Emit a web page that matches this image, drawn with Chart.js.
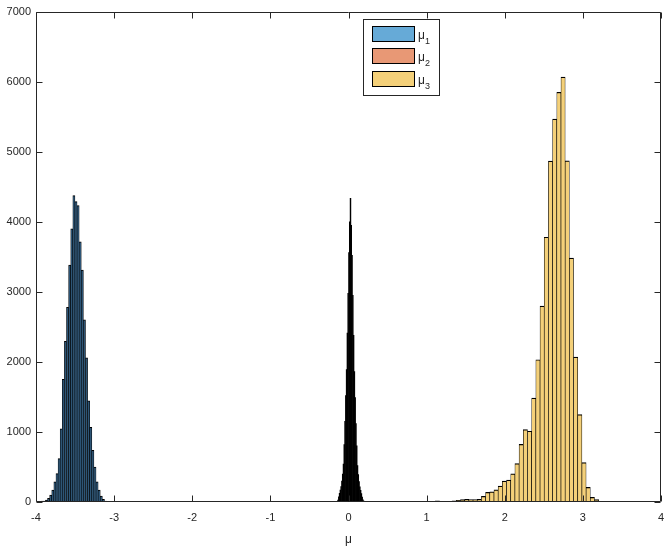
<!DOCTYPE html>
<html><head><meta charset="utf-8">
<script src="https://cdn.jsdelivr.net/npm/chart.js@4.4.1/dist/chart.umd.min.js"></script>
<style>html,body{margin:0;padding:0;background:#fff}canvas{display:block}</style>
</head><body>
<canvas id="c" width="664" height="547"></canvas>
<script>
// ---- data ----
const seriesNames = ['μ1', 'μ2', 'μ3'];
const seriesColors = ['rgb(102,170,215)', 'rgb(232,152,117)', 'rgb(244,208,121)'];
// on-screen fill of the very narrow bins (edges dominate, so they render darker)
const narrowFill = ['rgb(45,85,118)', '#000'];

const mu1Start = -3.92, mu1Width = 0.027;
const mu1Counts = [14, 14, 28, 52, 99, 170, 288, 406, 619, 1044, 1752, 2295, 2777, 3382, 3901,
                   4374, 4289, 4232, 3712, 3311, 2602, 2059, 1445, 1067, 737, 500, 288, 170, 85, 38, 14, 10];

const mu2Start = -0.1444, mu2Width = 0.01;
const mu2Counts = [10, 28, 75, 125, 170, 220, 300, 400, 540, 820, 1150, 1520, 1890, 2410, 2980, 3560, 4000,
                   4336,
                   3950, 3520, 2950, 2380, 1860, 1490, 1120, 800, 520, 390, 290, 215, 165, 120, 70, 30, 12];

const mu3Start = 1.1385, mu3Width = 0.0536;
const mu3Counts = [15, 10, 10, 10, 18, 25, 35, 38, 36, 36, 38, 80, 137, 146, 174, 227, 298, 312, 401, 548,
                   822, 1034, 1010, 1483, 2031, 2796, 3779, 4865, 5465, 5848, 6065, 4870, 3481, 2069, 1247, 562, 208, 66, 33, 8];

const xTicks = [-4, -3, -2, -1, 0, 1, 2, 3, 4];
const yTicks = [0, 1000, 2000, 3000, 4000, 5000, 6000, 7000];
const xLabel = 'μ';

function bins(start, width, counts) {
  return counts.map((c, i) => ({ x: start + i * width, y: c }));
}

const axisColor = '#262626';
const fontFamily = "'Liberation Sans', Arial, Helvetica, sans-serif";

const noPad = s => { s.paddingLeft = 0; s.paddingRight = 0; };
const hiddenX = { type: 'linear', display: false, min: xTicks[0], max: xTicks[xTicks.length - 1],
                  offset: false, afterFit: noPad };

const axesBox = {
  id: 'axesBox',
  afterDatasetsDraw(chart) {
    const { ctx, chartArea: a, scales } = chart;
    const L = Math.round(a.left) + 0.5, R = Math.round(a.right) - 0.5;
    const T = Math.round(a.top) + 0.5, B = Math.round(a.bottom) - 0.5;
    const tl = 6;
    ctx.save();
    ctx.strokeStyle = axisColor;
    ctx.lineWidth = 1;
    ctx.beginPath();
    ctx.rect(L, T, R - L, B - T);
    xTicks.forEach(v => {
      const p = Math.round(scales.x.getPixelForValue(v)) + 0.5;
      ctx.moveTo(p, B); ctx.lineTo(p, B - tl);
      ctx.moveTo(p, T); ctx.lineTo(p, T + tl);
    });
    yTicks.forEach(v => {
      const p = Math.round(scales.y.getPixelForValue(v)) + 0.5;
      ctx.moveTo(L, p); ctx.lineTo(L + tl, p);
      ctx.moveTo(R, p); ctx.lineTo(R - tl, p);
    });
    ctx.stroke();
    ctx.restore();
  }
};

const boxLegend = {
  id: 'boxLegend',
  afterDraw(chart) {
    const { ctx } = chart;
    const bx = 363.5, by = 19.5, bw = 76, bh = 76;
    ctx.save();
    ctx.fillStyle = '#fff';
    ctx.fillRect(bx, by, bw, bh);
    ctx.strokeStyle = axisColor;
    ctx.lineWidth = 1;
    ctx.strokeRect(bx, by, bw, bh);
    chart.data.datasets.forEach((ds, i) => {
      const y0 = Math.round(26 + i * 22.3);
      ctx.fillStyle = ds.legendColor;
      ctx.fillRect(372, y0, 43, 16);
      ctx.strokeStyle = '#000';
      ctx.lineWidth = 1;
      ctx.strokeRect(372.5, y0 + 0.5, 42, 15);
      ctx.fillStyle = axisColor;
      ctx.textBaseline = 'alphabetic';
      ctx.textAlign = 'left';
      ctx.font = '12px ' + fontFamily;
      ctx.fillText(ds.label.charAt(0), 418, y0 + 12.5);
      ctx.font = '9px ' + fontFamily;
      ctx.fillText(ds.label.slice(1), 425, y0 + 17.5);
    });
    ctx.restore();
  }
};

new Chart(document.getElementById('c'), {
  type: 'bar',
  data: {
    datasets: [
      { label: seriesNames[0], data: bins(mu1Start, mu1Width, mu1Counts), xAxisID: 'x',
        backgroundColor: narrowFill[0], legendColor: seriesColors[0], borderColor: '#000',
        borderWidth: { left: 0.6, right: 0.6, top: 1, bottom: 0 } },
      { label: seriesNames[1], data: bins(mu2Start, mu2Width, mu2Counts), xAxisID: 'x2',
        backgroundColor: narrowFill[1], legendColor: seriesColors[1], borderColor: '#000', borderWidth: 0 },
      { label: seriesNames[2], data: bins(mu3Start, mu3Width, mu3Counts), xAxisID: 'x3',
        backgroundColor: seriesColors[2], legendColor: seriesColors[2], borderColor: '#000',
        borderWidth: { left: 0.65, right: 0.65, top: 1.2, bottom: 0 } }
    ]
  },
  options: {
    responsive: false,
    animation: false,
    devicePixelRatio: 1,
    layout: { padding: { top: 8, right: 3, left: 0, bottom: 0 } },
    datasets: { bar: { barPercentage: 1, categoryPercentage: 1, grouped: false } },
    plugins: { legend: { display: false }, tooltip: { enabled: false } },
    scales: {
      x: {
        type: 'linear', min: xTicks[0], max: xTicks[xTicks.length - 1], offset: false,
        grid: { display: false, drawTicks: false },
        border: { display: false },
        afterBuildTicks: s => { s.ticks = xTicks.map(v => ({ value: v })); },
        ticks: { color: axisColor, font: { family: fontFamily, size: 11 }, padding: 9,
                 maxRotation: 0, callback: v => String(v) },
        title: { display: true, text: xLabel, color: axisColor, font: { family: fontFamily, size: 12 },
                 padding: { top: 0, bottom: 0 } },
        afterFit: s => { s.height = 45; noPad(s); }
      },
      x2: hiddenX,
      x3: hiddenX,
      y: {
        min: yTicks[0], max: yTicks[yTicks.length - 1],
        grid: { display: false, drawTicks: false },
        border: { display: false },
        afterBuildTicks: s => { s.ticks = yTicks.map(v => ({ value: v })); },
        ticks: { color: axisColor, font: { family: fontFamily, size: 11 }, padding: 5,
                 callback: v => String(v) },
        afterFit: s => { s.width = 36; }
      }
    }
  },
  plugins: [axesBox, boxLegend]
});
</script>
</body></html>
